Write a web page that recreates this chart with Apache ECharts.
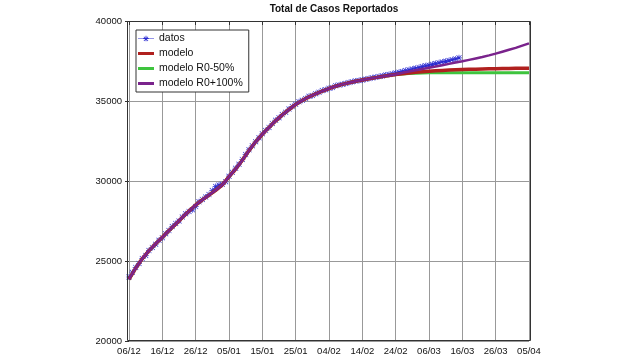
<!DOCTYPE html>
<html><head><meta charset="utf-8">
<script src="https://cdn.jsdelivr.net/npm/echarts@6/dist/echarts.min.js"></script>
<style>html,body{margin:0;padding:0;background:#fff}#c{width:642px;height:360px}</style>
</head><body><div id="c"></div>
<script>
// x ticks every 10 days starting 06/12
const tickLabels = ["06/12","16/12","26/12","05/01","15/01","25/01","04/02","14/02","24/02","06/03","16/03","26/03","05/04"];
const yTicks = [20000, 25000, 30000, 35000, 40000];

// reported data, one value per day from 06/12
const datos = [
 24000,24300,24600,24850,25150,25350,25650,25850,26050,26300,
 26450,26700,26900,27150,27350,27500,27750,27950,28100,28200,
 28400,28700,28850,29000,29150,29400,29650,29750,29800,29950,
 30300,30550,30800,31050,31350,31650,31950,32200,32450,32700,
 32950,33150,33350,33600,33800,33950,34150,34300,34500,34650,
 34800,34950,35050,35150,35300,35350,35450,35550,35650,35700,
 35800,35850,35950,36000,36050,36100,36150,36200,36250,36280,
 36320,36360,36400,36450,36480,36530,36570,36620,36660,36710,
 36750,36800,36840,36900,36950,37000,37050,37100,37150,37200,
 37240,37290,37340,37390,37440,37480,37530,37580,37630,37700
];

// model values every 2 days (shared part, day 0..80)
const modelBase = [
 23850,24550,25150,25650,26080,26480,26900,27300,27720,28120,
 28500,28820,29120,29420,29760,30270,30750,31300,31900,32450,
 32920,33350,33760,34130,34470,34780,35040,35260,35450,35620,
 35780,35920,36040,36140,36230,36310,36390,36460,36530,36590,
 36650
];
// tails every 2 days, day 82..120
const modeloTail = [36700,36750,36790,36830,36860,36890,36910,36930,36950,36965,36980,36990,37000,37010,37020,37030,37035,37040,37045,37050];
const r050Tail = [36690,36715,36735,36750,36760,36765,36768,36770,36770,36770,36770,36770,36770,36770,36770,36770,36770,36770,36770,36770];
const r0100Tail = [36760,36840,36920,37000,37080,37160,37240,37320,37400,37480,37570,37660,37750,37850,37960,38080,38200,38320,38460,38600];

const seriesNames = ["datos","modelo","modelo R0-50%","modelo R0+100%"];

const datosPts = datos.map((v,i)=>[i,v]);
const every2 = arr => arr.map((v,i)=>[i*2,v]);
const modeloPts = every2(modelBase.concat(modeloTail));
const r050Pts = every2(modelBase.concat(r050Tail));
const r0100Pts = every2(modelBase.concat(r0100Tail));

const star = 'path://M4.4,0H5.6V10H4.4Z M0,4.4H10V5.6H0Z M1.2,0.4L9.6,8.8L8.8,9.6L0.4,1.2Z M8.8,0.4L9.6,1.2L1.2,9.6L0.4,8.8Z';
// legend icons (box 16 x 11, tiny corner specks fix the bounding box)
const specks = 'M0,0h0.01v0.01h-0.01Z M15.99,10.99h0.01v0.01h-0.01Z ';
const lineIcon = 'path://' + specks + 'M0,4H16V7H0Z';
const datosIcon = 'path://' + specks + 'M0,5.2H16V5.8H0Z M7.6,2.8H8.4V8.2H7.6Z M5.3,5.1H10.7V5.9H5.3Z M6.1,3.6L10.3,7.8L9.8,8.3L5.6,4.1Z M9.8,3.6L10.3,4.1L6.1,8.3L5.6,7.8Z';

const chart = echarts.init(document.getElementById('c'));
const font = 'Liberation Sans, Arial, Helvetica, sans-serif';
chart.setOption({
  animation:false,
  backgroundColor:'#fff',
  title:{text:'Total de Casos Reportados', left:329, top:-1, textAlign:'center',
    textStyle:{fontFamily:font, fontSize:10, fontWeight:'bold', color:'#111'}},
  legend:{
    data:[
      {name:seriesNames[0], icon:datosIcon},
      {name:seriesNames[1], icon:lineIcon},
      {name:seriesNames[2], icon:lineIcon},
      {name:seriesNames[3], icon:lineIcon}
    ],
    orient:'vertical', left:136, top:30,
    backgroundColor:'#fff', borderColor:'#333', borderWidth:1, borderRadius:0,
    padding:[3,6,3,2], itemGap:4, itemWidth:16, itemHeight:11,
    textStyle:{fontFamily:font, fontSize:10.5, color:'#111'}
  },
  grid:{left:129, right:113, top:21, bottom:19, containLabel:false},
  xAxis:[{
    type:'value', min:0, max:120, interval:10,
    axisLine:{show:false}, axisTick:{show:false},
    splitLine:{show:true, lineStyle:{color:'#999', width:1}},
    axisLabel:{margin:5, fontFamily:font, fontSize:9.5, color:'#111',
      formatter:v=>tickLabels[Math.round(v/10)]}
  },{
    type:'value', min:0, max:120, interval:10, position:'top',
    axisLine:{show:false}, axisTick:{show:true, inside:true, length:4, lineStyle:{color:'#333'}},
    axisLabel:{show:false}, splitLine:{show:false}
  }],
  yAxis:[{
    type:'value', min:yTicks[0], max:yTicks[yTicks.length-1], interval:5000,
    axisLine:{show:false}, axisTick:{show:false},
    splitLine:{show:true, lineStyle:{color:'#999', width:1}},
    axisLabel:{margin:7, fontFamily:font, fontSize:9.5, color:'#111', formatter:v=>String(v)}
  },{
    type:'value', min:yTicks[0], max:yTicks[yTicks.length-1], interval:5000, position:'right',
    axisLine:{show:false}, axisTick:{show:true, inside:true, length:4, lineStyle:{color:'#333'}},
    axisLabel:{show:false}, splitLine:{show:false}
  }],
  graphic:[{type:'rect', z:100, silent:true,
    shape:{x:127.5, y:21.5, width:403, height:319},
    style:{fill:'none', stroke:'#333', lineWidth:1}}],
  series:[
    {name:seriesNames[0], type:'line', data:datosPts, symbol:star, symbolSize:6, showSymbol:true,
     lineStyle:{color:'#2a2ad0', width:1}, itemStyle:{color:'#2a2ad0'}, z:2},
    {name:seriesNames[2], type:'line', data:r050Pts, symbol:'none',
     lineStyle:{color:'#3ec43e', width:3}, itemStyle:{color:'#3ec43e'}, z:3},
    {name:seriesNames[1], type:'line', data:modeloPts, symbol:'none',
     lineStyle:{color:'#b0201e', width:3.5}, itemStyle:{color:'#b0201e'}, z:4},
    {name:seriesNames[3], type:'line', data:r0100Pts, symbol:'none',
     lineStyle:{color:'#7a238c', width:2.5}, itemStyle:{color:'#7a238c'}, z:5}
  ]
});
</script></body></html>
